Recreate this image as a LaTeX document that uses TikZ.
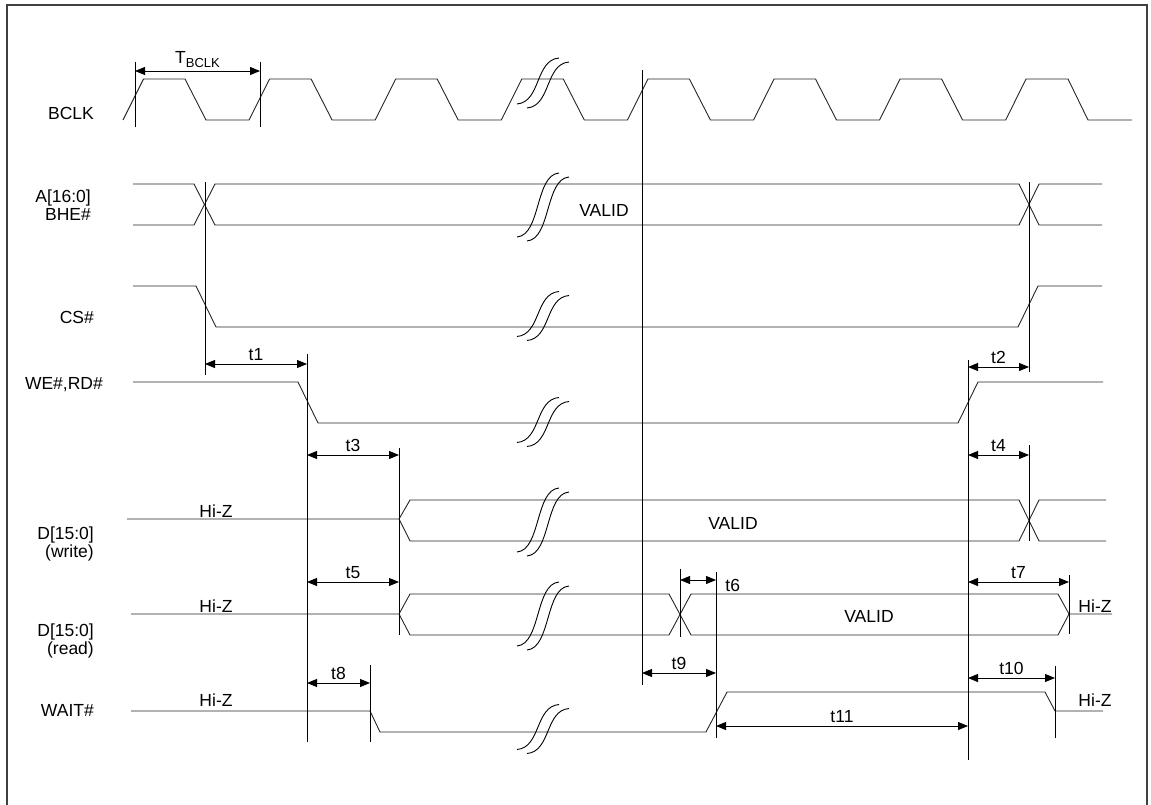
\documentclass[tikz,border=0pt]{standalone}
\usepackage{fontspec}
\setmainfont{Liberation Sans}
\usetikzlibrary{arrows.meta}

% break symbol: two S curves round (#1,#2), height #3
\newcommand{\sigbreak}[3]{%
  \draw[brk] (#1-26,#2+#3/2) .. controls +(24,-2) and +(-24,2) .. (#1+16,#2-#3/2);
  \draw[brk] (#1-16,#2+#3/2+4) .. controls +(24,-2) and +(-24,2) .. (#1+26,#2-#3/2+4);
}

\begin{document}
\begin{tikzpicture}[x=1pt,y=-1pt,
    sig/.style={line width=0.9pt,black!85,line join=round},
    guide/.style={line width=0.9pt,black},
    brk/.style={line width=0.9pt,black},
    dim/.style={line width=0.9pt,{Triangle[length=10pt,width=8pt]}-{Triangle[length=10pt,width=8pt]}},
    lbl/.style={font=\fontsize{17.5}{18}\selectfont,anchor=east,align=right,inner sep=0pt},
    txt/.style={font=\fontsize{17.5}{18}\selectfont,inner sep=0pt}
  ]
    \useasboundingbox (0,0) rectangle (1151,805);
    \draw[line width=1.2pt,black!75] (7,805) -- (7,5) -- (1147,5) -- (1147,805);

    % signal names
    \node[lbl] (nclk) at (94,113) {BCLK};
    \node[lbl] (naddr) at (91,205) {A[16:0]\\BHE\#};
    \node[lbl] (ncs) at (94,317) {CS\#};
    \node[lbl] (nwe) at (103,385) {WE\#,RD\#};
    \node[lbl] (ndw) at (94,544) {D[15:0]\\(write)};
    \node[lbl] (ndr) at (94,641) {D[15:0]\\(read)};
    \node[lbl] (nwait) at (94,710) {WAIT\#};

    % clock
    \draw[sig] (123,120)
      \foreach \k in {0,...,6} {
        -- ({123+126.1*\k+20.5},79) -- ({123+126.1*\k+62},79)
        -- ({123+126.1*\k+83},120) -- ({123+126.1*(\k+1)},120)
      }
      -- (1026,79) -- (1068,79) -- (1088,120) -- (1132,120);

    % address bus
    \draw[sig] (133,184) -- (194,184) -- (215,225) -- (1019,225) -- (1039,184) -- (1102,184);
    \draw[sig] (133,225) -- (194,225) -- (215,184) -- (1019,184) -- (1039,225) -- (1102,225);
    % chip select
    \draw[sig] (133,286) -- (196,286) -- (216,327) -- (1018,327) -- (1038,286) -- (1102,286);
    % write / read strobe
    \draw[sig] (133,382) -- (298,382) -- (318,423) -- (958,423) -- (978,382) -- (1103,382);
    % data write
    \draw[sig] (127,519) -- (399,519) -- (410,500) -- (1019,500) -- (1039,541) -- (1106,541);
    \draw[sig] (399,519) -- (410,541) -- (1019,541) -- (1039,500) -- (1106,500);
    % data read
    \draw[sig] (131,614) -- (399,614) -- (410,594) -- (669,594) -- (691,635) -- (1058,635) -- (1069,614) -- (1112,614);
    \draw[sig] (399,614) -- (410,635) -- (669,635) -- (691,594) -- (1058,594) -- (1069,614);
    % wait
    \draw[sig] (131,711) -- (370,711) -- (380,732) -- (706,732) -- (727,692) -- (1045,692) -- (1055,711) -- (1103,711);

    % breaks
    \foreach \yy/\hh in {81/46, 205/64, 314/45, 420/45, 520/64, 614/64, 727/45} {
      \sigbreak{543}{\yy}{\hh}
    }

    % level texts
    \node[txt] (valA) at (604,210) {VALID};
    \node[txt] (valW) at (733,523) {VALID};
    \node[txt] (valR) at (869,616) {VALID};
    \node[txt] (hzW) at (216,511) {Hi-Z};
    \node[txt] (hzR) at (216,606) {Hi-Z};
    \node[txt] (hzT) at (216,700) {Hi-Z};
    \node[txt] (hzR2) at (1095,606) {Hi-Z};
    \node[txt] (hzT2) at (1095,700) {Hi-Z};

    % reference lines
    \foreach \xx/\ya/\yb in {135/62/127, 260/62/127, 205/182/375, 307/354/742,
        399/448/635, 370/665/742, 642/70/685, 680/569/637, 716/572/738,
        968/360/760, 1029/182/372, 1029/445/541, 1069/575/634, 1055/666/738} {
      \draw[guide] (\xx,\ya) -- (\xx,\yb);
    }

    % timing arrows
    \coordinate (tbA) at (135,71);
    \coordinate (tbB) at (260,71);
    \draw[dim] (tbA) -- node[txt,above=3pt]{T{\fontsize{13}{13}\selectfont\raisebox{-3.5pt}{BCLK}}} (tbB);
    \foreach \nm/\xa/\xb/\yy in {t1/205/307/364, t2/968/1029/367, t3/307/399/455,
        t4/968/1029/455, t5/307/399/582, t7/968/1069/582, t8/307/370/683,
        t9/642/716/673, t10/968/1055/678, t11/716/968/726} {
      \coordinate (\nm a) at (\xa,\yy);
      \coordinate (\nm b) at (\xb,\yy);
      \draw[dim] (\nm a) -- node[txt,above=3pt]{\nm} (\nm b);
    }
    \coordinate (t6a) at (680,580);
    \coordinate (t6b) at (716,580);
    \draw[dim] (t6a) -- (t6b) node[txt,right=9pt,yshift=-5pt]{t6};
  \end{tikzpicture}
\end{document}
